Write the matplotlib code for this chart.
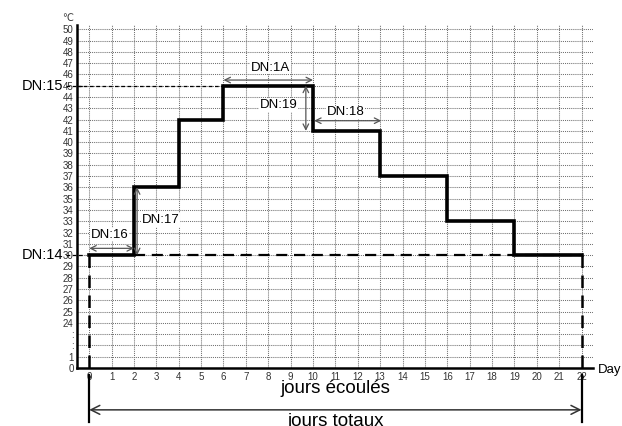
import matplotlib.pyplot as plt

plt.rcParams['font.family'] = ['Liberation Sans', 'DejaVu Sans']

# step profile: day boundaries and temperature in each segment
days = [0, 2, 4, 6, 10, 13, 16, 19, 22]
temps = [30, 36, 42, 45, 41, 37, 33, 30]

# y axis is broken: 0, 1, ':', ':', then 24..50
y_labels = ['0', '1', ':', ':'] + [str(t) for t in range(24, 51)]
x_labels = [str(d) for d in range(0, 23)]


def ypos(t):
    # map a temperature to its row on the broken axis
    return t if t < 2 else t - 20


fig = plt.figure(figsize=(6.22, 4.26), dpi=100)
ax = fig.add_axes([0.124, 0.136, 0.829, 0.806])

ax.set_xlim(-0.54, 22.5)
ax.set_ylim(0, 30.4)
ax.set_xticks(range(len(x_labels)))
ax.set_xticklabels(x_labels)
ax.set_yticks(range(len(y_labels)))
ax.set_yticklabels(y_labels)
ax.tick_params(length=0, labelsize=7, labelcolor='#333333', pad=2.5)
ax.spines['top'].set_visible(False)
ax.spines['right'].set_visible(False)
ax.spines['left'].set_linewidth(1.8)
ax.spines['bottom'].set_linewidth(1.8)
ax.grid(True, color='#707070', linestyle=(0, (1, 1)), linewidth=0.75)
ax.set_axisbelow(True)

# step line (solid), 30 baseline dashed after day 2
xs, ys = [], []
for i, t in enumerate(temps):
    xs += [days[i], days[i + 1]]
    ys += [ypos(t), ypos(t)]
ax.plot(xs, ys, color='black', lw=2.6, solid_joinstyle='miter', zorder=5)
ax.plot([days[1], days[-1]], [ypos(30), ypos(30)], color='black', lw=1.6,
        dashes=(5, 3), zorder=4)
ax.plot([-0.54, days[3]], [ypos(45), ypos(45)], color='black', lw=0.9,
        dashes=(3, 2), zorder=4)

# vertical dashed lines at start and end
for d in (days[0], days[-1]):
    ax.plot([d, d], [ypos(30), -0.9], color='black', lw=1.8, dashes=(5, 3),
            clip_on=False, zorder=4)

# left labels
ax.plot([-1.03, -0.2], [ypos(30), ypos(30)], color='black', lw=0.9,
        dashes=(3, 2), clip_on=False)
ax.plot([-1.03, -0.2], [ypos(45), ypos(45)], color='black', lw=0.9,
        dashes=(3, 2), clip_on=False)
ax.text(-1.18, ypos(30), 'DN:14', ha='right', va='center', fontsize=10.5)
ax.text(-1.18, ypos(45), 'DN:15', ha='right', va='center', fontsize=10.5)
ax.text(-0.95, 31.0, '\u2103', ha='center', va='center', fontsize=7,
        color='#333333', clip_on=False, family=['DejaVu Sans'])
ax.text(22.75, -0.2, 'Day', ha='left', va='center', fontsize=9.5)

arrow = dict(arrowstyle='<->', color='#555555', lw=0.9, shrinkA=0, shrinkB=0,
             mutation_scale=10)
box = dict(facecolor='white', edgecolor='none', pad=0.5)

# DN:16
ax.annotate('', xy=(0, 10.6), xytext=(2, 10.6), arrowprops=arrow, zorder=6)
ax.text(0.9, 11.8, 'DN:16', ha='center', va='center', fontsize=9.5, bbox=box)
# DN:17
ax.annotate('', xy=(2.14, 10), xytext=(2.14, 16), arrowprops=arrow, zorder=6)
ax.text(3.2, 13.1, 'DN:17', ha='center', va='center', fontsize=9.5, bbox=box)
# DN:1A
ax.annotate('', xy=(6, 25.5), xytext=(10, 25.5), arrowprops=arrow, zorder=6)
ax.text(8.1, 26.6, 'DN:1A', ha='center', va='center', fontsize=9.5, bbox=box)
# DN:19
ax.annotate('', xy=(9.68, 25), xytext=(9.68, 21), arrowprops=arrow, zorder=6)
ax.text(8.45, 23.3, 'DN:19', ha='center', va='center', fontsize=9.5, bbox=box)
# DN:18
ax.annotate('', xy=(10.05, 21.9), xytext=(13.05, 21.9), arrowprops=arrow, zorder=6)
ax.text(11.45, 22.65, 'DN:18', ha='center', va='center', fontsize=9.5, bbox=box)

# bottom: elapsed / total days
ax.text(11, -1.85, 'jours écoulés', ha='center', va='center', fontsize=13.5)
for d in (days[0], days[-1]):
    ax.plot([d, d], [-0.65, -4.8], color='black', lw=1.6, clip_on=False)
ax.annotate('', xy=(0, -3.7), xytext=(22, -3.7), annotation_clip=False,
            arrowprops=dict(arrowstyle='<->', color='#333333', lw=1.1,
                            shrinkA=0, shrinkB=0, mutation_scale=16))
ax.text(11, -3.95, 'jours totaux', ha='center', va='top', fontsize=13.5)

fig.savefig('out.png', dpi=100)
